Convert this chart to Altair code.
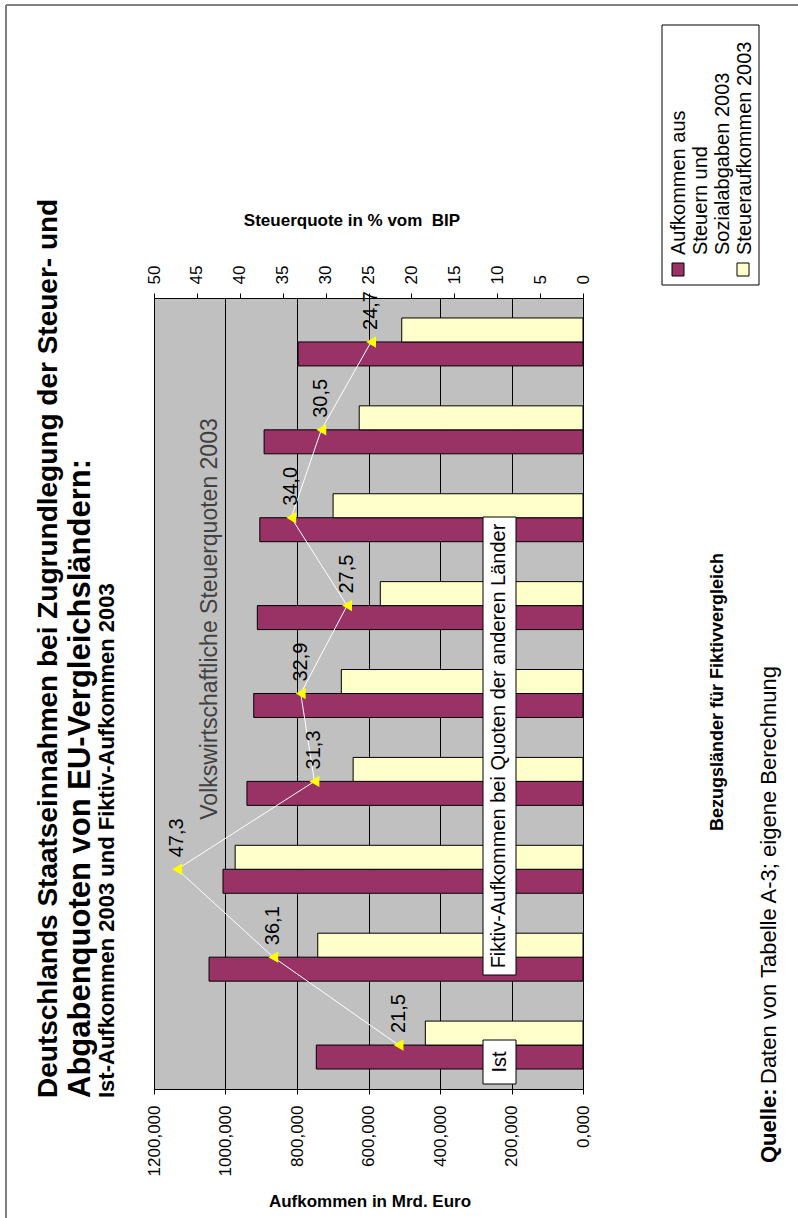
import altair as alt
import pandas as pd

# ---- data ----
countries = ["Deutschland", "Schweden", "Dänemark", "Belgien", "Finnland",
             "Frankreich", "Norwegen", "Italien", "Niederlande"]
aufkommen = [746, 1046, 1007, 940, 921, 911, 904, 892, 797]      # Aufkommen aus Steuern und Sozialabgaben 2003
steuer = [441, 742, 973, 643, 676, 567, 699, 626, 507]           # Steueraufkommen 2003
quote = [21.5, 36.1, 47.3, 31.3, 32.9, 27.5, 34.0, 30.5, 24.7]   # Steuerquote in % vom BIP

series_names = ["Aufkommen aus Steuern und Sozialabgaben 2003", "Steueraufkommen 2003"]
series_colors = ["#993366", "#FFFFCC"]
left_ticks = [0, 200, 400, 600, 800, 1000, 1200]
top_ticks = [0, 5, 10, 15, 20, 25, 30, 35, 40, 45, 50]

FONT = "Liberation Sans"
W, H = 429, 791
order_top = countries[::-1]

bars_df = pd.DataFrame({
    "country": countries * 2,
    "series": [series_names[0]] * len(countries) + [series_names[1]] * len(countries),
    "value": aufkommen + steuer,
})
q_df = pd.DataFrame({"country": countries, "idx": list(range(len(countries))), "quote": quote})

one = alt.Data(values=[{}])

bars = alt.Chart(bars_df).mark_bar(stroke="black", strokeWidth=1).encode(
    x=alt.X("value:Q",
            scale=alt.Scale(domain=[0, 1200], reverse=True, nice=False, zero=True),
            axis=alt.Axis(orient="bottom", values=left_ticks,
                          labelExpr="replace(format(datum.value,'.3f'),'.',',')",
                          labelAngle=270, labelAlign="right", labelBaseline="middle",
                          labelFontSize=17, labelPadding=11, labelColor="black", labelFont=FONT,
                          tickSize=5, tickColor="black", domainColor="black",
                          grid=True, gridColor="black", gridWidth=1, gridOpacity=1,
                          title=None)),
    y=alt.Y("country:N", sort=order_top,
            scale=alt.Scale(paddingInner=0, paddingOuter=0),
            axis=alt.Axis(orient="right", tickBand="extent", tickSize=7, tickColor="black",
                          domainColor="black", labelFontSize=20, labelPadding=10,
                          labelColor="black", labelFont=FONT, labelAlign="left",
                          labelBaseline="middle", title=None)),
    yOffset=alt.YOffset("series:N", sort=[series_names[1], series_names[0]],
                        scale=alt.Scale(paddingInner=0, paddingOuter=0.833)),
    color=alt.Color("series:N", scale=alt.Scale(domain=series_names, range=series_colors), legend=None),
)


def qscale():
    return alt.Scale(domain=[0, 50], reverse=True, nice=False, zero=True)


yq = alt.Y("country:N", sort=order_top, axis=None)

qline = alt.Chart(q_df).mark_line(color="white", strokeWidth=1).encode(
    x=alt.X("quote:Q", scale=qscale(),
            axis=alt.Axis(orient="top", values=top_ticks, labelAngle=270, labelAlign="left",
                          labelBaseline="middle", labelFontSize=17, labelPadding=9,
                          labelColor="black", labelFont=FONT, tickSize=5, tickColor="black",
                          domainColor="black", grid=False, title=None)),
    y=yq, order=alt.Order("idx:Q"))
qpts = alt.Chart(q_df).mark_point(shape="triangle-left", filled=True, color="#FFFF00",
                                  size=130, opacity=1).encode(
    x=alt.X("quote:Q", scale=qscale(), axis=None), y=yq)
qlab = alt.Chart(q_df).transform_calculate(
    lab="replace(format(datum.quote,'.1f'),'.',',')"
).mark_text(angle=270, align="left", baseline="middle", dx=12, fontSize=20,
            font=FONT, color="black").encode(
    x=alt.X("quote:Q", scale=qscale(), axis=None), y=yq, text="lab:N")


def txt(s, x, y, size, weight="normal", angle=270, align="left", baseline="alphabetic", color="black"):
    kw = dict(fontSize=size, fontWeight=weight, align=align, baseline=baseline,
              color=color, font=FONT)
    if angle:
        kw["angle"] = angle
    return alt.Chart(one).mark_text(**kw).encode(
        x=alt.value(x), y=alt.value(y), text=alt.value(s))


def box(x1, x2, y1, y2, fill="white", stroke="black"):
    return alt.Chart(one).mark_rect(fill=fill, stroke=stroke, strokeWidth=1).encode(
        x=alt.value(x1), x2=alt.value(x2), y=alt.value(y1), y2=alt.value(y2))


OX, OY = 154, 298  # plot origin on the page

annotations = [
    # page frame
    alt.Chart(one).mark_rule(color="#808080", strokeWidth=2).encode(
        x=alt.value(6 - OX), y=alt.value(5 - OY), y2=alt.value(1218 - OY)),
    alt.Chart(one).mark_rule(color="#808080", strokeWidth=2).encode(
        x=alt.value(6 - OX), x2=alt.value(798 - OX), y=alt.value(5 - OY)),
    # titles
    txt("Deutschlands Staatseinnahmen bei Zugrundlegung der Steuer- und", 57 - OX, 1098 - OY, 28, "bold"),
    txt("Abgabenquoten von EU-Vergleichsländern:", 90 - OX, 1098 - OY, 31, "bold"),
    txt("Ist-Aufkommen 2003 und Fiktiv-Aufkommen 2003", 114 - OX, 1098 - OY, 22, "bold"),
    txt("Steuerquote in % vom\u00a0\u00a0BIP", 352 - OX, 221 - OY, 17, "bold", angle=0,
        align="center", baseline="middle"),
    txt("Aufkommen in Mrd. Euro", 370 - OX, 1202 - OY, 17, "bold", angle=0,
        align="center", baseline="middle"),
    txt("Bezugsländer für Fiktivvergleich", 723 - OX, 692 - OY, 18, "bold", align="center"),
    txt("Quelle:", 776 - OX, 1163 - OY, 22, "bold"),
    txt("Daten von Tabelle A-3; eigene Berechnung", 776 - OX, 1084 - OY, 22),
    # in-plot annotations
    txt("Volkswirtschaftliche Steuerquoten 2003", 217 - OX, 619 - OY, 23, color="#404040",
        align="center"),
    box(483 - OX, 516 - OX, 517 - OY, 975 - OY),
    txt("Fiktiv-Aufkommen bei Quoten der anderen Länder", 505 - OX, 746 - OY, 20, align="center"),
    box(483 - OX, 516 - OX, 1040 - OY, 1084 - OY),
    txt("Ist", 506 - OX, 1062 - OY, 20, align="center"),
    # legend
    box(662 - OX, 759 - OX, 25 - OY, 285 - OY),
    box(672 - OX, 684 - OX, 263 - OY, 276 - OY, fill=series_colors[0]),
    box(737 - OX, 749 - OX, 263 - OY, 276 - OY, fill=series_colors[1]),
    txt("Aufkommen aus", 685 - OX, 255 - OY, 20),
    txt("Steuern und", 707 - OX, 255 - OY, 20),
    txt("Sozialabgaben 2003", 729 - OX, 255 - OY, 20),
    txt("Steueraufkommen 2003", 751 - OX, 255 - OY, 20),
]

chart = (
    alt.layer(bars, qline, qpts, qlab, *annotations)
    .resolve_scale(x="independent")
    .properties(
        width=W, height=H,
        autosize=alt.AutoSizeParams(type="none"),
        padding={"left": OX, "top": OY, "right": 798 - OX - W, "bottom": 1218 - OY - H},
        background="white",
    )
    .configure(font=FONT)
    .configure_view(fill="#C0C0C0", stroke="#808080", strokeWidth=1)
    .configure_axisTop(labelFontSize=17, labelColor="black", labelFont=FONT)
    .configure_axisBottom(labelFontSize=17, labelColor="black", labelFont=FONT)
)

chart.save("out.html", embed_options={"renderer": "svg", "actions": False})
